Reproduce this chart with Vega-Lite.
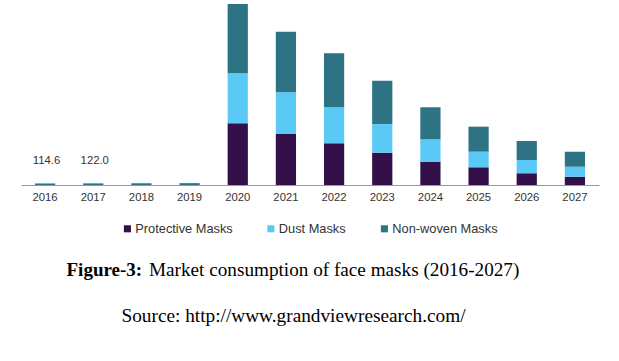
{
  "$schema": "https://vega.github.io/schema/vega-lite/v6.json",
  "width": 578,
  "height": 185,
  "autosize": {"type": "none"},
  "padding": {"left": 21, "top": 0, "right": 20, "bottom": 176},
  "background": "white",
  "config": {"view": {"stroke": null}, "font": "Liberation Sans"},
  "title": {
    "text": "Source: http://www.grandviewresearch.com/",
    "orient": "bottom",
    "anchor": "middle",
    "frame": "group",
    "dx": -16.5,
    "offset": 27,
    "font": "Liberation Serif",
    "fontSize": 19.3,
    "fontWeight": "normal",
    "color": "black"
  },
  "datasets": {
    "sales": [
      {"year": "2016", "type": "Non-woven Masks", "value": 114.6},
      {"year": "2017", "type": "Non-woven Masks", "value": 122.0},
      {"year": "2018", "type": "Non-woven Masks", "value": 130},
      {"year": "2019", "type": "Non-woven Masks", "value": 138},
      {"year": "2020", "type": "Protective Masks", "value": 4630},
      {"year": "2020", "type": "Dust Masks", "value": 3750},
      {"year": "2020", "type": "Non-woven Masks", "value": 5200},
      {"year": "2021", "type": "Protective Masks", "value": 3825},
      {"year": "2021", "type": "Dust Masks", "value": 3130},
      {"year": "2021", "type": "Non-woven Masks", "value": 4545},
      {"year": "2022", "type": "Protective Masks", "value": 3130},
      {"year": "2022", "type": "Dust Masks", "value": 2700},
      {"year": "2022", "type": "Non-woven Masks", "value": 4050},
      {"year": "2023", "type": "Protective Masks", "value": 2420},
      {"year": "2023", "type": "Dust Masks", "value": 2150},
      {"year": "2023", "type": "Non-woven Masks", "value": 3250},
      {"year": "2024", "type": "Protective Masks", "value": 1750},
      {"year": "2024", "type": "Dust Masks", "value": 1680},
      {"year": "2024", "type": "Non-woven Masks", "value": 2400},
      {"year": "2025", "type": "Protective Masks", "value": 1330},
      {"year": "2025", "type": "Dust Masks", "value": 1170},
      {"year": "2025", "type": "Non-woven Masks", "value": 1875},
      {"year": "2026", "type": "Protective Masks", "value": 880},
      {"year": "2026", "type": "Dust Masks", "value": 1000},
      {"year": "2026", "type": "Non-woven Masks", "value": 1425},
      {"year": "2027", "type": "Protective Masks", "value": 620},
      {"year": "2027", "type": "Dust Masks", "value": 750},
      {"year": "2027", "type": "Non-woven Masks", "value": 1125}
    ],
    "labels": [
      {"year": "2016", "total": 114.6, "label": "114.6"},
      {"year": "2017", "total": 122.0, "label": "122.0"}
    ]
  },
  "layer": [
    {
      "data": {"name": "sales"},
      "transform": [
        {"calculate": "indexof(['Protective Masks', 'Dust Masks', 'Non-woven Masks'], datum.type)", "as": "stackOrder"}
      ],
      "mark": {"type": "bar"},
      "encoding": {
        "x": {
          "field": "year",
          "type": "ordinal",
          "scale": {"paddingInner": 0.58, "paddingOuter": 0.29},
          "axis": {
            "title": "Market consumption of face masks (2016-2027)",
            "titleFont": "Liberation Serif",
            "titleFontSize": 19.2,
            "titleFontWeight": "normal",
            "titleColor": "black",
            "titleX": 127.5,
            "titleY": 90.5,
            "titleAlign": "left",
            "titleAnchor": null,
            "titleBaseline": "alphabetic",
            "labelAngle": 0,
            "ticks": false,
            "domainColor": "#9a9a9a",
            "labelFont": "Liberation Sans",
            "labelFontSize": 11.3,
            "labelPadding": 6,
            "labelColor": "#333333"
          }
        },
        "y": {
          "field": "value",
          "type": "quantitative",
          "stack": "zero",
          "scale": {"domain": [0, 13875], "nice": false},
          "axis": {
            "title": "Figure-3:",
            "titleFont": "Liberation Serif",
            "titleFontSize": 19,
            "titleFontWeight": "bold",
            "titleColor": "black",
            "titleAngle": 0,
            "titleX": 45,
            "titleY": 275.5,
            "titleAlign": "left",
            "titleAnchor": null,
            "titleBaseline": "alphabetic",
            "labels": false,
            "ticks": false,
            "domain": false,
            "grid": false
          }
        },
        "order": {"field": "stackOrder", "type": "quantitative", "sort": "ascending"},
        "color": {
          "field": "type",
          "type": "nominal",
          "sort": ["Protective Masks", "Dust Masks", "Non-woven Masks"],
          "scale": {
            "domain": ["Protective Masks", "Dust Masks", "Non-woven Masks"],
            "range": ["#34104a", "#5bc9f6", "#2e7383"]
          },
          "legend": {
            "orient": "none",
            "legendX": 100,
            "legendY": 222,
            "direction": "horizontal",
            "title": null,
            "symbolType": "square",
            "symbolSize": 50,
            "symbolStrokeWidth": 0,
            "symbolOpacity": 1,
            "labelFont": "Liberation Sans",
            "labelFontSize": 12.8,
            "labelColor": "#333333",
            "labelOffset": 1.5,
            "columnPadding": 31.5
          }
        }
      }
    },
    {
      "data": {"name": "labels"},
      "mark": {"type": "text", "baseline": "alphabetic", "dy": -19.5, "dx": 1.5, "font": "Liberation Sans", "fontSize": 11.3, "color": "#333333"},
      "encoding": {
        "x": {"field": "year", "type": "ordinal"},
        "y": {"field": "total", "type": "quantitative"},
        "text": {"field": "label"}
      }
    }
  ]
}
